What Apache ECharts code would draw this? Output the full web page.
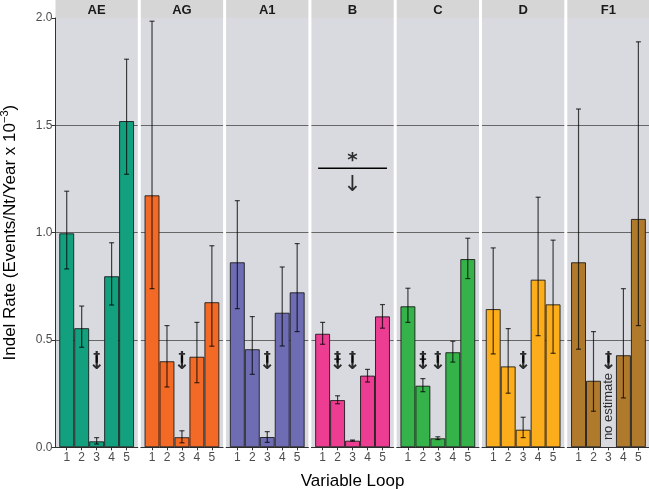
<!DOCTYPE html>
<html>
<head>
<meta charset="utf-8">
<script src="https://cdn.jsdelivr.net/npm/echarts@6/dist/echarts.min.js"></script>
<style>html,body{margin:0;padding:0;background:#fff}#c{width:649px;height:489px}</style>
</head>
<body>
<div id="c"></div>
<script>
// ---- data ----
const panels = ['AE', 'AG', 'A1', 'B', 'C', 'D', 'F1'];
const loops = [1, 2, 3, 4, 5];
const colors = ['#12a07e', '#f26a26', '#6e6db4', '#ec3d92', '#36b24a', '#fcad1c', '#b07a2c'];

const rateAE = [0.997, 0.555, 0.028, 0.797, 1.52];
const lowerAE = [0.831, 0.466, 0.015, 0.663, 1.272];
const upperAE = [1.193, 0.658, 0.045, 0.953, 1.808];

const rateAG = [1.174, 0.401, 0.047, 0.422, 0.676];
const lowerAG = [0.739, 0.281, 0.021, 0.301, 0.471];
const upperAG = [1.985, 0.567, 0.077, 0.582, 0.939];

const rateA1 = [0.862, 0.457, 0.048, 0.627, 0.722];
const lowerA1 = [0.646, 0.340, 0.023, 0.472, 0.539];
const upperA1 = [1.149, 0.609, 0.073, 0.840, 0.949];

const rateB = [0.529, 0.220, 0.031, 0.334, 0.610];
const lowerB = [0.480, 0.203, 0.029, 0.304, 0.555];
const upperB = [0.582, 0.240, 0.034, 0.363, 0.665];

const rateC = [0.657, 0.287, 0.042, 0.443, 0.877];
const lowerC = [0.582, 0.259, 0.036, 0.397, 0.786];
const upperC = [0.741, 0.320, 0.049, 0.494, 0.974];

const rateD = [0.644, 0.377, 0.082, 0.781, 0.666];
const lowerD = [0.435, 0.252, 0.045, 0.520, 0.438];
const upperD = [0.929, 0.553, 0.140, 1.165, 0.965];

const rateF1 = [0.862, 0.310, null, 0.429, 1.064];
const lowerF1 = [0.457, 0.168, null, 0.230, 0.567];
const upperF1 = [1.576, 0.539, null, 0.739, 1.889];

const yTicks = [0, 0.5, 1.0, 1.5, 2.0];

// dagger annotations (panel, loop, mark)
const daggerPanel = ['AE', 'AG', 'A1', 'B', 'B', 'C', 'C', 'D', 'F1'];
const daggerLoop = [3, 3, 3, 2, 3, 2, 3, 3, 3];
const daggerMark = ['†', '†', '†', '‡', '†', '‡', '†', '†', '†'];
const daggerLevel = 0.40;

// panel B bracket annotation
const bracketLoops = [0.7, 5.3];
const bracketLevel = 1.30;
const noEstimatePanel = 'F1';
const noEstimateLoop = 3;
const noEstimateLevel = 0.19;

// ---- build ----
const rates = [rateAE, rateAG, rateA1, rateB, rateC, rateD, rateF1];
const lowers = [lowerAE, lowerAG, lowerA1, lowerB, lowerC, lowerD, lowerF1];
const uppers = [upperAE, upperAG, upperA1, upperB, upperC, upperD, upperF1];

const L0 = 55.5, STEP = 85.3, W = 82.3, TOP = 18, H = 429.3;
const XMIN = 0.25, XMAX = 5.75;
const unitPx = W / (XMAX - XMIN);

const grids = [], xAxes = [], yAxes = [], series = [], graphics = [];
const FONT = 'Liberation Sans, Arial, sans-serif';
const noSym = {symbolSize: 1, itemStyle: {color: 'rgba(0,0,0,0)'}, silent: true, animation: false};

panels.forEach((p, i) => {
  const left = L0 + i * STEP;
  grids.push({left: left, top: TOP, width: W, height: H, show: true, backgroundColor: '#d9dadf', borderWidth: 0,
    containLabel: false, outerBoundsMode: 'none'});
  xAxes.push({
    gridIndex: i, type: 'value', min: XMIN, max: XMAX,
    axisLine: {show: true, onZero: false, lineStyle: {color: '#333', width: 1}},
    axisTick: {show: true, customValues: loops, length: 3, lineStyle: {color: '#333'}},
    axisLabel: {show: true, customValues: loops, color: '#4d4d4d', fontSize: 12, margin: 4, fontFamily: FONT},
    splitLine: {show: false},
    name: i === 3 ? 'Variable Loop' : '', nameLocation: 'middle', nameGap: 26,
    nameTextStyle: {fontSize: 17, color: '#000', fontFamily: FONT}
  });
  yAxes.push({
    gridIndex: i, type: 'value', min: 0, max: 2, interval: 0.5,
    axisLine: {show: i === 0, onZero: false, lineStyle: {color: '#333', width: 1}},
    axisTick: {show: i === 0, length: 4, lineStyle: {color: '#333'}},
    axisLabel: {show: i === 0, formatter: v => v.toFixed(1), color: '#4d4d4d', fontSize: 12, margin: 3, fontFamily: FONT},
    splitLine: {show: true, lineStyle: {color: ['rgba(0,0,0,0)', '#666', '#666', '#666', 'rgba(0,0,0,0)'], width: 1}},
    name: i === 0 ? 'Indel Rate (Events/Nt/Year x 10{sup|−3})' : '',
    nameLocation: 'middle', nameRotate: 90, nameGap: 35,
    nameTextStyle: {fontSize: 17, color: '#000', fontFamily: FONT, rich: {sup: {fontSize: 11, padding: [0, 0, 10, 0], fontFamily: FONT}}}
  });

  series.push({
    type: 'bar', xAxisIndex: i, yAxisIndex: i,
    barWidth: unitPx,
    data: loops.map((l, j) => [l, rates[i][j]]),
    itemStyle: {color: colors[i], borderColor: 'rgba(20,20,20,0.85)', borderWidth: 1},
    silent: true, animation: false
  });

  series.push({
    type: 'custom', xAxisIndex: i, yAxisIndex: i,
    data: loops.map((l, j) => [l, lowers[i][j], uppers[i][j]]).filter(d => d[1] != null),
    renderItem: function (params, api) {
      const x = api.value(0);
      const lo = api.coord([x, api.value(1)]);
      const hi = api.coord([x, api.value(2)]);
      const cw = 2.5;
      const st = {stroke: 'rgba(0,0,0,0.72)', lineWidth: 1.2};
      return {type: 'group', children: [
        {type: 'line', shape: {x1: lo[0], y1: lo[1], x2: hi[0], y2: hi[1]}, style: st},
        {type: 'line', shape: {x1: lo[0] - cw, y1: lo[1], x2: lo[0] + cw, y2: lo[1]}, style: st},
        {type: 'line', shape: {x1: hi[0] - cw, y1: hi[1], x2: hi[0] + cw, y2: hi[1]}, style: st}
      ]};
    },
    silent: true, animation: false, z: 5
  });

  // dagger + arrow annotations
  const dag = [];
  daggerPanel.forEach((dp, k) => { if (dp === p) dag.push(k); });
  if (dag.length) {
    series.push(Object.assign({
      type: 'scatter', xAxisIndex: i, yAxisIndex: i, z: 6,
      data: dag.map(k => ({value: [daggerLoop[k], daggerLevel], label: {formatter: '↓'}})),
      label: {show: true, position: 'inside', color: '#000', fontSize: 19, fontWeight: 'bold', fontFamily: 'DejaVu Sans', offset: [0, 3]}
    }, noSym));
    series.push(Object.assign({
      type: 'scatter', xAxisIndex: i, yAxisIndex: i, z: 7,
      data: dag.map(k => ({value: [daggerLoop[k], daggerLevel], label: {formatter: daggerMark[k]}})),
      label: {show: true, position: 'inside', color: '#000', fontSize: 14, fontWeight: 'bold', fontFamily: 'DejaVu Sans', offset: [0, -4]}
    }, noSym));
  }

  if (p === 'B') {
    series.push({
      type: 'custom', xAxisIndex: i, yAxisIndex: i,
      data: [[bracketLoops[0], bracketLoops[1], bracketLevel]],
      renderItem: function (params, api) {
        const a = api.coord([api.value(0), api.value(2)]);
        const b = api.coord([api.value(1), api.value(2)]);
        return {type: 'line', shape: {x1: a[0], y1: a[1], x2: b[0], y2: b[1]}, style: {stroke: '#000', lineWidth: 1.5}};
      },
      silent: true, animation: false, z: 6
    });
    series.push(Object.assign({
      type: 'scatter', xAxisIndex: i, yAxisIndex: i, z: 6,
      data: [
        {value: [3, bracketLevel], label: {formatter: '*', fontSize: 20, fontWeight: 'bold', offset: [0, -7]}},
        {value: [3, bracketLevel], label: {formatter: '↓', fontSize: 22, offset: [0, 17]}}
      ],
      label: {show: true, position: 'inside', color: '#000', fontFamily: 'DejaVu Sans'}
    }, noSym));
  }

  if (p === noEstimatePanel) {
    series.push(Object.assign({
      type: 'scatter', xAxisIndex: i, yAxisIndex: i, z: 6,
      data: [{value: [noEstimateLoop, noEstimateLevel]}],
      label: {show: true, position: 'inside', formatter: 'no estimate', rotate: 90, color: '#000', fontSize: 13, fontFamily: FONT}
    }, noSym));
  }

  graphics.push({type: 'rect', shape: {x: left, y: 0, width: W, height: TOP}, style: {fill: '#d6d6d6'}, silent: true});
  graphics.push({type: 'text', x: left + W / 2, y: TOP / 2 + 1, style: {text: p, fill: '#1a1a1a', font: 'bold 13px Liberation Sans, Arial, sans-serif', textAlign: 'center', textVerticalAlign: 'middle'}, silent: true});
});

const chart = echarts.init(document.getElementById('c'), null, {renderer: 'canvas'});
chart.setOption({
  backgroundColor: '#fff',
  animation: false,
  grid: grids, xAxis: xAxes, yAxis: yAxes, series: series,
  graphic: graphics
});
</script>
</body>
</html>
